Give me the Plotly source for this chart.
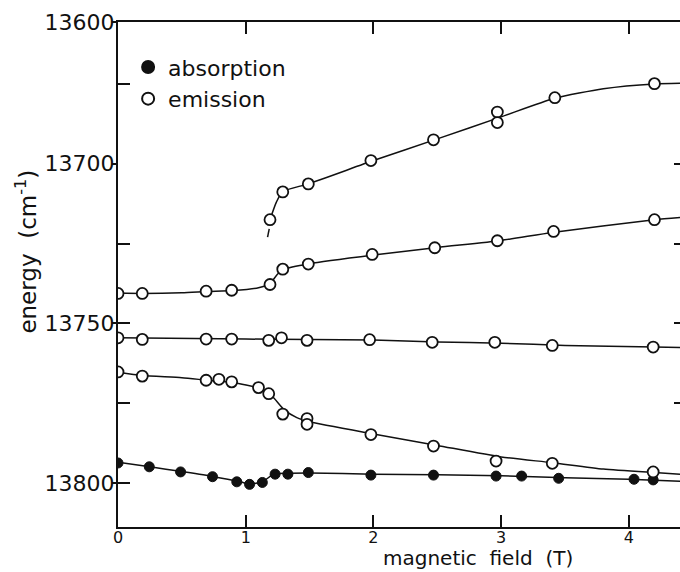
import plotly.graph_objects as go

# ---------------- data ----------------
# measured points: emission (open circles), four branches
em_a_x = [1.19, 1.29, 1.49, 1.98, 2.47, 2.97, 2.97, 3.42, 4.20]
em_a_y = [13717.5, 13708.8, 13706.3, 13699.0, 13692.5, 13683.8, 13687.1, 13679.3, 13674.9]

em_b_x = [0.0, 0.19, 0.69, 0.89, 1.19, 1.29, 1.49, 1.99, 2.48, 2.97, 3.41, 4.20]
em_b_y = [13740.6, 13740.6, 13739.9, 13739.6, 13737.8, 13733.0, 13731.4, 13728.4, 13726.3, 13724.1, 13721.2, 13717.5]

em_c_x = [0.0, 0.19, 0.69, 0.89, 1.18, 1.28, 1.48, 1.97, 2.46, 2.95, 3.40, 4.19]
em_c_y = [13754.5, 13755.0, 13754.9, 13754.9, 13755.3, 13754.5, 13755.3, 13755.1, 13755.9, 13755.9, 13756.9, 13757.4]

em_d_x = [0.0, 0.19, 0.69, 0.79, 0.89, 1.10, 1.18, 1.29, 1.48, 1.48, 1.98, 2.47, 2.96, 3.40, 4.19]
em_d_y = [13765.2, 13766.5, 13767.8, 13767.5, 13768.3, 13770.1, 13772.0, 13778.4, 13779.8, 13781.6, 13784.8, 13788.4, 13793.1, 13793.8, 13796.5]

# measured points: absorption (filled circles)
ab_x = [0.0, 0.245, 0.49, 0.74, 0.93, 1.03, 1.13, 1.23, 1.33, 1.49, 1.98, 2.47, 2.96, 3.16, 3.45, 4.04, 4.19]
ab_y = [13793.7, 13794.9, 13796.5, 13798.0, 13799.6, 13800.4, 13799.8, 13797.2, 13797.2, 13796.7, 13797.5, 13797.5, 13797.8, 13797.8, 13798.5, 13798.8, 13799.0]

# hand-drawn guide curves
cv_a_x = [1.19, 1.24, 1.29, 1.49, 2.0, 2.5, 3.0, 3.42, 3.8, 4.2, 4.40]
cv_a_y = [13717.5, 13712.0, 13708.7, 13706.3, 13699.0, 13692.2, 13685.3, 13679.5, 13676.5, 13675.0, 13674.8]
cv_a_dash_x = [1.171, 1.184]
cv_a_dash_y = [13723.0, 13720.4]

cv_b_x = [0.0, 0.19, 0.5, 0.7, 0.9, 1.1, 1.19, 1.25, 1.3, 1.5, 2.0, 2.5, 3.0, 3.4, 4.2, 4.40]
cv_b_y = [13740.5, 13740.6, 13740.4, 13740.0, 13739.7, 13738.8, 13737.5, 13734.5, 13733.0, 13731.3, 13728.6, 13726.2, 13724.0, 13721.5, 13717.5, 13716.8]

cv_c_x = [0.0, 1.0, 1.5, 2.0, 2.5, 3.0, 3.5, 4.2, 4.40]
cv_c_y = [13754.5, 13754.9, 13755.0, 13755.2, 13755.8, 13756.2, 13756.9, 13757.4, 13757.5]

cv_d_x = [0.0, 0.19, 0.5, 0.7, 0.9, 1.1, 1.2, 1.3, 1.4, 1.5, 2.0, 2.5, 3.0, 3.4, 3.8, 4.2, 4.40]
cv_d_y = [13765.3, 13766.3, 13767.0, 13767.8, 13768.5, 13770.3, 13772.5, 13777.0, 13779.5, 13780.8, 13784.6, 13788.2, 13791.8, 13793.6, 13795.6, 13796.7, 13797.2]

cv_ab_x = [0.0, 0.25, 0.5, 0.74, 0.95, 1.03, 1.13, 1.22, 1.35, 1.5, 2.0, 2.5, 3.0, 3.5, 4.0, 4.40]
cv_ab_y = [13793.5, 13794.9, 13796.4, 13797.9, 13799.5, 13800.3, 13799.6, 13797.2, 13796.9, 13796.8, 13797.2, 13797.4, 13797.7, 13798.3, 13798.8, 13799.4]

# axis ticks
x_ticks = [0, 1, 2, 3, 4]
y_tickvals = [13655.6, 13700, 13750, 13800]
y_ticktext = ["13600", "13700", "13750", "13800"]
y_minor = [13675, 13725, 13750, 13775, 13800]
y_right_ticks = [13700, 13725, 13750, 13775]

INK = "#111111"
FONT = "DejaVu Sans"

fig = go.Figure()

line_style = dict(color=INK, width=1.5, shape="spline", smoothing=0.6)
for cx, cy in [(cv_a_x, cv_a_y), (cv_b_x, cv_b_y), (cv_c_x, cv_c_y), (cv_d_x, cv_d_y), (cv_ab_x, cv_ab_y)]:
    fig.add_trace(go.Scatter(x=cx, y=cy, mode="lines", line=line_style,
                             showlegend=False, hoverinfo="skip"))
fig.add_trace(go.Scatter(x=cv_a_dash_x, y=cv_a_dash_y, mode="lines",
                         line=dict(color=INK, width=1.5), showlegend=False, hoverinfo="skip"))

# absorption points
fig.add_trace(go.Scatter(x=ab_x, y=ab_y, mode="markers", name="absorption",
                         marker=dict(symbol="circle", size=10, color=INK,
                                     line=dict(color=INK, width=1))))
# emission points
em_x = em_a_x + em_b_x + em_c_x + em_d_x
em_y = em_a_y + em_b_y + em_c_y + em_d_y
fig.add_trace(go.Scatter(x=em_x, y=em_y, mode="markers", name="emission",
                         marker=dict(symbol="circle", size=11, color="white",
                                     line=dict(color=INK, width=1.8))))

# dummy trace to activate right-side tick axis
fig.add_trace(go.Scatter(x=[None], y=[None], yaxis="y2", showlegend=False, hoverinfo="skip"))

fig.update_layout(
    width=680, height=572,
    margin=dict(l=118, r=0, t=22, b=45),
    paper_bgcolor="white", plot_bgcolor="white",
    font=dict(family=FONT, color=INK),
    showlegend=True,
    legend=dict(x=0.018, y=0.952, xanchor="left", yanchor="top",
                font=dict(size=22, family=FONT, color=INK),
                bgcolor="rgba(0,0,0,0)", tracegroupgap=0, itemsizing="constant"),
    xaxis=dict(range=[0, 4.40], tickmode="array", tickvals=x_ticks,
               ticktext=[str(v) for v in x_ticks],
               ticks="inside", ticklen=12, tickwidth=1.5, tickcolor=INK,
               showline=True, linewidth=2, linecolor=INK, mirror="ticks",
               showgrid=False, zeroline=False, ticklabelstandoff=-5,
               tickfont=dict(size=16, family=FONT, color=INK)),
    yaxis=dict(range=[13813.75, 13655.6], tickmode="array", tickvals=y_tickvals,
               ticktext=y_ticktext, ticks="outside", ticklen=4, tickwidth=1.5,
               tickcolor=INK, showline=True, linewidth=2, linecolor=INK,
               showgrid=False, zeroline=False, ticklabelstandoff=-7,
               minor=dict(tickmode="array", tickvals=y_minor, ticks="inside",
                          ticklen=12, tickwidth=1.5, tickcolor=INK),
               tickfont=dict(size=22, family=FONT, color=INK)),
    yaxis2=dict(range=[13813.75, 13655.6], overlaying="y", side="right", anchor="x",
                tickmode="array", tickvals=y_right_ticks, ticks="inside", ticklen=6,
                tickwidth=1.5, tickcolor=INK, showticklabels=False, showline=False,
                showgrid=False, zeroline=False),
    annotations=[
        dict(text="magnetic\u00a0\u00a0field\u00a0\u00a0(T)", xref="paper", yref="paper",
             x=0.64, y=-0.0885, xanchor="center", yanchor="bottom", showarrow=False,
             font=dict(size=20, family=FONT, color=INK)),
        dict(text="energy\u00a0 (cm<sup>-1</sup>)", xref="paper", yref="paper",
             x=-0.164, y=0.545, xanchor="center", yanchor="middle", textangle=-90,
             showarrow=False, font=dict(size=23, family=FONT, color=INK)),
    ],
)

fig.write_html("out.html", config={"displayModeBar": False})
